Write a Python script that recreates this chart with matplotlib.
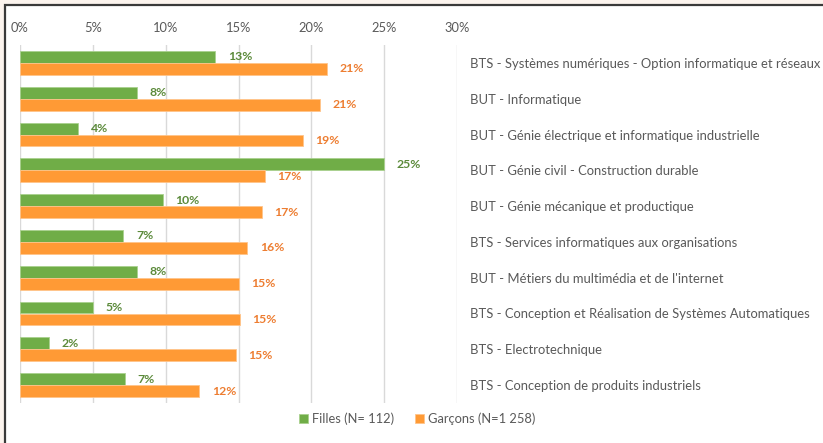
"""Répartition des filles et garçons par formation (BTS / BUT)"""
import matplotlib
matplotlib.use('Agg')
import matplotlib.pyplot as plt
from matplotlib.patches import Rectangle

plt.rcParams['font.family'] = ['Lato', 'DejaVu Sans']

# Données (en %)
formations = [
    "BTS - Systèmes numériques - Option informatique et réseaux",
    "BUT - Informatique",
    "BUT - Génie électrique et informatique industrielle",
    "BUT - Génie civil - Construction durable",
    "BUT - Génie mécanique et productique",
    "BTS - Services informatiques aux organisations",
    "BUT - Métiers du multimédia et de l'internet",
    "BTS - Conception et Réalisation de Systèmes Automatiques",
    "BTS - Electrotechnique",
    "BTS - Conception de produits industriels",
]
filles = [13.4, 8.0, 4.0, 25.0, 9.8, 7.1, 8.0, 5.0, 2.0, 7.2]
garcons = [21.1, 20.6, 19.4, 16.8, 16.6, 15.6, 15.0, 15.1, 14.8, 12.3]
xticks = [0, 5, 10, 15, 20, 25, 30]

W, H = 823, 443
fig = plt.figure(figsize=(W / 100, H / 100), dpi=100)
fig.patch.set_facecolor('#fcf4ee')

# cadre blanc avec bordure sombre (gauche / haut visibles)
cadre = Rectangle((5 / W, -0.1), 1.2, 1 - 5 / H + 0.1,
                  transform=fig.transFigure, facecolor='white',
                  edgecolor='#3a3a3a', linewidth=1.6, zorder=-10)
fig.add_artist(cadre)

ax = fig.add_axes([20 / W, 1 - 403 / H, (457 - 20) / W, (403 - 45) / H])
ax.set_facecolor('none')

pos = list(range(len(formations)))
h = 0.335
b1 = ax.barh([p - h / 2 for p in pos], filles, height=h, color='#70ad47',
             edgecolor='#a9d18e', linewidth=0.6, label='Filles (N= 112)', zorder=3)
b2 = ax.barh([p + h / 2 for p in pos], garcons, height=h, color='#ff9a35',
             edgecolor='#ffc48a', linewidth=0.6, label='Garçons (N=1 258)', zorder=3)

ax.bar_label(b1, labels=[f"{v:.0f}%" for v in filles], padding=9,
             color='#5b8a3a', fontsize=8.8, fontweight='bold')
ax.bar_label(b2, labels=[f"{v:.0f}%" for v in garcons], padding=9,
             color='#ed7d31', fontsize=8.8, fontweight='bold')

ax.set_xlim(0, 30)
ax.set_ylim(len(formations) - 0.5, -0.5)
ax.set_xticks(xticks)
ax.set_xticklabels([f"{t}%" for t in xticks])
ax.xaxis.tick_top()
ax.tick_params(axis='x', length=0, pad=8, labelcolor='#595959', labelsize=9.3)

ax.set_yticks(pos)
ax.set_yticklabels(formations)
ax.yaxis.tick_right()
ax.tick_params(axis='y', length=0, pad=9.5, labelcolor='#595959', labelsize=9.4)

ax.grid(axis='x', color='#d9d9d9', linewidth=1, zorder=0)
ax.set_axisbelow(True)
for s in ax.spines.values():
    s.set_visible(False)

leg = fig.legend(handles=[b1, b2], loc='center', bbox_to_anchor=(417 / W, 1 - 419 / H),
                 ncol=2, frameon=False, fontsize=9.3, handlelength=0.7, handleheight=0.7,
                 handletextpad=0.3, columnspacing=1.6)
for t in leg.get_texts():
    t.set_color('#595959')

plt.savefig('out.png', dpi=100, facecolor=fig.get_facecolor())
plt.close()
